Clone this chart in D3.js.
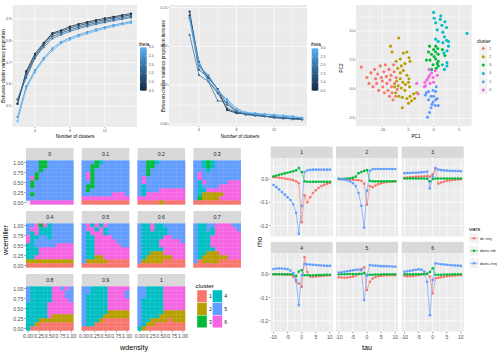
<!DOCTYPE html>
<html>
<head>
<meta charset="utf-8">
<script src="https://cdn.jsdelivr.net/npm/d3@7"></script>
<style>
  body { margin: 0; background: #fff; }
  svg { display: block; font-family: "Liberation Sans", Arial, sans-serif; }
</style>
</head>
<body>
<div id="wrapper"></div>
<script>
// ---------- data ----------
const thetas = [0.5, 1.0, 1.5, 2.0, 2.5, 3.0]
const kAll = [2, 3, 4, 5, 6, 7, 8, 9, 10, 11, 12, 13, 14, 15]
const propByTheta = [
  [0.51, 0.66, 0.74, 0.79, 0.835, 0.848, 0.865, 0.877, 0.886, 0.895, 0.903, 0.91, 0.918, 0.925],
  [0.51, 0.65, 0.73, 0.785, 0.83, 0.842, 0.858, 0.87, 0.88, 0.889, 0.897, 0.905, 0.912, 0.919],
  [0.53, 0.63, 0.72, 0.78, 0.82, 0.835, 0.85, 0.862, 0.873, 0.882, 0.89, 0.898, 0.905, 0.912],
  [0.53, 0.64, 0.725, 0.77, 0.81, 0.828, 0.843, 0.856, 0.866, 0.876, 0.884, 0.892, 0.899, 0.906],
  [0.45, 0.59, 0.665, 0.72, 0.765, 0.795, 0.812, 0.827, 0.84, 0.852, 0.862, 0.872, 0.88, 0.888],
  [0.43, 0.58, 0.655, 0.713, 0.755, 0.788, 0.805, 0.82, 0.833, 0.845, 0.856, 0.866, 0.875, 0.882]
]
const kInc = [3, 4, 5, 6, 7, 8, 9, 10, 11, 12, 13, 14, 15]
const incByTheta = [
  [0.145, 0.075, 0.06, 0.045, 0.018, 0.014, 0.013, 0.012, 0.01, 0.009, 0.008, 0.007, 0.006],
  [0.14, 0.08, 0.055, 0.04, 0.02, 0.015, 0.013, 0.011, 0.01, 0.009, 0.008, 0.007, 0.007],
  [0.137, 0.07, 0.06, 0.045, 0.025, 0.016, 0.012, 0.011, 0.01, 0.008, 0.007, 0.007, 0.006],
  [0.115, 0.063, 0.055, 0.03, 0.028, 0.016, 0.013, 0.012, 0.01, 0.009, 0.008, 0.006, 0.006],
  [0.138, 0.075, 0.063, 0.044, 0.03, 0.018, 0.014, 0.013, 0.012, 0.011, 0.01, 0.009, 0.008],
  [0.135, 0.078, 0.056, 0.042, 0.032, 0.02, 0.015, 0.014, 0.013, 0.012, 0.011, 0.01, 0.008]
]

// PCA scatter, [PC1, PC2] per cluster
const pcaCluster1 = [[-14.1,1.9],[-13.0,1.0],[-12.6,0.5],[-12.2,1.4],[-11.8,0.2],[-11.5,1.7],[-11.3,0.9],[-11.1,0.5],[-10.9,1.3],[-10.7,-0.1],[-10.4,2.0],[-10.2,1.0],[-10.0,0.7],[-9.9,0.2],[-9.7,1.5],[-9.6,-0.3],[-9.4,2.1],[-9.2,1.1],[-9.1,0.5],[-8.9,-0.1],[-8.7,1.7],[-8.6,-0.6],[-8.5,0.8],[-8.3,1.2],[-8.2,0.2],[-8.1,-0.3],[-7.9,-0.9],[-7.8,2.1],[-7.7,1.5],[-7.6,0.5],[-7.4,-0.6],[-7.3,1.0],[-7.1,0.0]]
const pcaCluster2 = [[-8.4,3.7],[-6.8,4.4],[-8.1,3.2],[-7.3,2.4],[-6.5,2.6],[-5.9,3.1],[-5.2,3.2],[-4.8,2.7],[-4.6,2.4],[-7.0,1.8],[-6.3,2.0],[-5.6,2.2],[-6.5,1.4],[-5.9,1.6],[-5.2,1.2],[-4.8,0.9],[-7.2,0.7],[-6.5,0.9],[-6.0,0.6],[-5.5,0.4],[-4.9,0.6],[-7.6,0.2],[-6.9,0.3],[-6.3,0.1],[-5.6,-0.1],[-4.7,0.2],[-7.4,-0.3],[-6.8,-0.6],[-6.1,-0.7],[-5.2,-0.8],[-4.6,-0.6],[-3.9,-0.4],[-3.3,-0.3],[-6.1,-1.6],[-4.9,-1.2],[-4.3,-1.0],[-3.7,-0.8]]
const pcaCluster3 = [[-0.8,3.7],[0.0,3.4],[0.4,3.7],[0.8,3.5],[-1.0,3.2],[-0.4,3.0],[0.4,3.2],[0.9,3.0],[1.7,3.4],[2.2,2.9],[-0.7,2.5],[0.4,2.6],[0.9,2.4],[-0.1,2.1],[0.7,2.2],[0.9,2.0],[-0.4,1.7],[0.5,1.8],[-1.4,2.5],[0.1,2.8]]
const pcaCluster4 = [[0.0,6.6],[0.1,6.1],[0.4,5.7],[0.7,5.1],[1.3,6.0],[1.6,5.5],[1.8,4.9],[2.2,5.8],[2.5,5.3],[1.4,6.3],[2.1,4.5],[2.5,4.2],[1.8,4.0],[2.9,4.1],[6.5,4.8],[2.0,3.1],[2.6,3.3],[2.9,3.7],[2.6,2.0],[2.1,1.7],[1.7,2.1],[2.6,2.3],[0.9,4.1],[0.4,4.3]]
const pcaCluster5 = [[-1.4,-0.3],[-0.5,-0.6],[0.4,-0.2],[0.7,-0.8],[-1.0,-0.9],[-0.1,-1.1],[0.3,-1.4],[-0.5,-1.6],[-0.8,-2.0],[-1.2,-2.4],[0.4,-0.9],[0.9,-1.4],[-0.1,-0.1],[-1.6,-0.5],[0.0,-0.6],[-0.3,-1.3],[0.5,0.2],[-1.0,-0.2]]
const pcaCluster6 = [[-3.3,0.5],[-3.0,-0.4],[-1.6,0.3],[-1.3,0.8],[-1.0,1.0],[-0.8,1.2],[-0.7,0.5],[-0.4,1.4],[-0.1,1.0],[0.0,0.6],[0.3,1.6],[0.7,1.2],[-0.9,1.7],[-1.7,0.6],[-1.8,0.2]]
const pcaClusters = [pcaCluster1, pcaCluster2, pcaCluster3, pcaCluster4, pcaCluster5, pcaCluster6]

// tile facets: cluster id per cell, rows from wcentiller 1.0 (top) to 0.0, columns wdensity 0 -> 1
const tileFacets = ["0", "0.1", "0.2", "0.3", "0.4", "0.5", "0.6", "0.7", "0.8", "0.9", "1"]
const wdensity = [0, 0.1, 0.2, 0.3, 0.4, 0.5, 0.6, 0.7, 0.8, 0.9, 1]
const wcentiller = [1, 0.9, 0.8, 0.7, 0.6, 0.5, 0.4, 0.3, 0.2, 0.1, 0]
const tileGrids = [
  ["55533555555","55533555555","55535555555","55355555555","56355555555","53555555555","53555555555","55555555555","53555555555","55555555555","06666666666"],
  ["55534555555","55335555555","55355555555","56355555555","56355555555","55355555555","53355555555","53555555555","55555556665","66666666666","11111111111"],
  ["55334555555","55335555555","55355555555","55355555555","56555555555","56555555555","54555555555","54555666666","54666666666","66666666666","11111211111"],
  ["55434555555","55434555555","55545555555","56555555555","56555555555","54655555666","54555566666","54466666666","54222226666","53222266666","11111111111"],
  ["55636455555","56644455555","54644455555","64455455555","64555555555","44555556666","44466666666","44466666666","44666666666","22222222222","11111111111"],
  ["56464655555","56646455555","54666455555","54466665555","54466666555","54466666655","54466666666","54466666666","54422666666","52222211111","11111111111"],
  ["54464455555","54464445555","54444445555","54444466555","54444666665","54444666666","54444466666","54422266666","54222222666","52222211111","11111111111"],
  ["54455666655","54454666665","54444666666","54446666666","54446666666","54446666666","54444666666","54422266666","54222222666","51222211111","11111111111"],
  ["54444466565","54444466655","54444466655","54444466665","44444666666","44444666666","44444666666","44444622222","44422222222","44211111111","41111111111"],
  ["55444466666","55444466665","54444466665","54444466666","54444466666","54444466666","54444422222","54444222222","54442111111","54411111111","11111111111"],
  ["55444466666","55444466666","55444466666","54444466666","54444466666","54444466666","54444422222","54444222222","54422221222","54221111111","42111111111"]
]

// cross-correlation facets
const rhoFacets = ["1", "2", "3", "4", "5", "6"]
const taus = [-10, -9, -8, -7, -6, -5, -4, -3, -2, -1, 0, 1, 2, 3, 4, 5, 6, 7, 8, 9, 10]
const varNames = ["dr->rej", "dans->dr", "dans->rej"]
const rhoDrRej = [
  [0.008,0.007,0.005,0.004,0.002,0.0,-0.002,-0.005,-0.01,-0.018,-0.185,-0.07,-0.1,-0.078,-0.06,-0.048,-0.038,-0.03,-0.025,-0.02,-0.017],
  [0.0,-0.001,-0.001,-0.002,-0.002,-0.003,-0.004,-0.005,-0.008,-0.02,-0.11,-0.03,-0.035,-0.028,-0.022,-0.018,-0.015,-0.013,-0.012,-0.011,-0.01],
  [0.005,0.006,0.007,0.008,0.009,0.01,0.011,0.012,0.012,0.01,0.02,0.045,-0.02,-0.015,-0.012,-0.008,-0.006,-0.004,-0.003,-0.002,-0.001],
  [0.0,0.0,-0.001,-0.001,-0.002,-0.002,-0.002,-0.01,-0.03,-0.04,-0.053,0.073,0.01,-0.01,-0.01,-0.009,-0.008,-0.007,-0.006,-0.005,-0.005],
  [-0.013,-0.014,-0.015,-0.014,-0.012,-0.01,-0.006,0.0,0.02,0.03,-0.067,-0.032,-0.018,-0.012,-0.008,-0.006,-0.005,-0.004,-0.004,-0.004,-0.004],
  [-0.006,-0.008,-0.008,-0.007,-0.005,-0.003,0.0,0.003,0.002,-0.01,-0.082,-0.017,-0.015,-0.012,-0.01,-0.008,-0.007,-0.006,-0.005,-0.004,-0.004]
]
const rhoDansDr = [
  [0.012,0.015,0.018,0.021,0.024,0.027,0.03,0.033,0.037,0.047,0.03,-0.01,-0.012,-0.012,-0.012,-0.012,-0.012,-0.012,-0.012,-0.012,-0.012],
  [0.0,0.0,0.001,0.002,0.003,0.005,0.01,0.025,0.03,0.035,0.038,-0.008,-0.01,-0.01,-0.01,-0.01,-0.01,-0.01,-0.01,-0.01,-0.01],
  [0.002,0.002,0.002,0.002,0.002,0.002,0.002,0.002,0.001,-0.01,0.0,0.002,0.002,0.002,0.002,0.002,0.002,0.002,0.002,0.002,0.002],
  [0.0,0.0,0.0,0.0,0.0,0.0,0.0,0.0,-0.008,0.012,0.018,-0.004,-0.004,-0.004,-0.004,-0.003,-0.003,-0.003,-0.002,-0.002,-0.002],
  [0.0,0.0,0.0,0.001,0.001,0.001,0.001,0.001,0.001,0.005,-0.003,-0.002,-0.002,-0.001,-0.001,-0.001,0.0,0.0,0.0,0.0,0.0],
  [0.0,0.0,0.0,0.0,0.0,0.0,0.0,0.0,0.002,0.01,0.026,-0.002,-0.002,-0.002,-0.001,-0.001,-0.001,0.0,0.0,0.0,0.0]
]
const rhoDansRej = [
  [-0.026,-0.035,-0.045,-0.056,-0.067,-0.078,-0.09,-0.108,-0.145,-0.235,-0.115,0.03,0.037,0.039,0.04,0.04,0.04,0.04,0.04,0.04,0.04],
  [0.002,0.0,-0.002,-0.005,-0.01,-0.018,-0.03,-0.06,-0.115,-0.208,-0.05,0.035,0.042,0.043,0.043,0.043,0.043,0.043,0.043,0.043,0.043],
  [0.025,0.026,0.026,0.027,0.027,0.028,0.029,0.03,0.032,-0.041,0.01,0.047,0.04,0.038,0.037,0.036,0.035,0.035,0.034,0.034,0.033],
  [0.023,0.025,0.025,0.025,0.024,0.022,0.016,0.005,-0.024,-0.132,-0.003,0.044,0.043,0.042,0.041,0.04,0.039,0.038,0.037,0.036,0.036],
  [0.007,0.009,0.011,0.013,0.015,0.017,0.019,0.02,0.021,-0.11,-0.005,0.04,0.038,0.037,0.036,0.035,0.035,0.034,0.034,0.033,0.033],
  [0.011,0.013,0.015,0.017,0.019,0.021,0.02,0.012,-0.032,-0.175,-0.024,0.047,0.045,0.043,0.042,0.041,0.04,0.039,0.038,0.037,0.036]
]
const rhoSeries = [rhoDrRej, rhoDansDr, rhoDansRej]

// ---------- styles ----------
const hue = ["#F8766D", "#B79F00", "#00BA38", "#00BFC4", "#619CFF", "#F564E3"]
const varColors = ["#F8766D", "#00BA38", "#619CFF"]
const thetaColor = d3.scaleLinear().domain([0.5, 3]).range(["#132B43", "#56B1F7"]).interpolate(d3.interpolateLab)

const svg = d3.select("#wrapper").append("svg").attr("width", 499).attr("height", 355)

// gray ggplot panel with white grid lines
function panel(box, sx, sy, xMaj, xMin, yMaj, yMin, gw) {
  const g = svg.append("g")
  g.append("rect").attr("x", box.x).attr("y", box.y).attr("width", box.w).attr("height", box.h).attr("fill", "#EBEBEB")
  const vline = (v, w) => g.append("line").attr("x1", sx(v)).attr("x2", sx(v)).attr("y1", box.y).attr("y2", box.y + box.h).attr("stroke", "#fff").attr("stroke-width", w)
  const hline = (v, w) => g.append("line").attr("y1", sy(v)).attr("y2", sy(v)).attr("x1", box.x).attr("x2", box.x + box.w).attr("stroke", "#fff").attr("stroke-width", w)
  xMin.forEach(v => vline(v, gw * 0.5))
  yMin.forEach(v => hline(v, gw * 0.5))
  xMaj.forEach(v => vline(v, gw))
  yMaj.forEach(v => hline(v, gw))
  return g
}

function text(x, y, s, size, opts = {}) {
  const t = svg.append("text").attr("x", x).attr("y", y).text(s)
    .attr("font-size", size).attr("fill", opts.fill || "#000")
    .attr("text-anchor", opts.anchor || "middle").attr("dominant-baseline", "central")
  if (opts.rotate) t.attr("transform", `rotate(-90, ${x}, ${y})`)
  return t
}

function xAxis(sx, ticks, labels, y, size, tl) {
  ticks.forEach((v, i) => {
    svg.append("line").attr("x1", sx(v)).attr("x2", sx(v)).attr("y1", y).attr("y2", y + tl).attr("stroke", "#333").attr("stroke-width", 0.4)
    text(sx(v), y + tl + size * 0.75, labels[i], size, { fill: "#4D4D4D" })
  })
}
function yAxis(sy, ticks, labels, x, size, tl) {
  ticks.forEach((v, i) => {
    svg.append("line").attr("y1", sy(v)).attr("y2", sy(v)).attr("x1", x - tl).attr("x2", x).attr("stroke", "#333").attr("stroke-width", 0.4)
    if (labels) text(x - tl - 0.6, sy(v), labels[i], size, { fill: "#4D4D4D", anchor: "end" })
  })
}

function colorbar(x, y, w, h, lx, titleY) {
  const id = "cb" + Math.round(x)
  const grad = svg.append("defs").append("linearGradient").attr("id", id).attr("x1", 0).attr("x2", 0).attr("y1", 1).attr("y2", 0)
  thetas.forEach(t => grad.append("stop").attr("offset", (t - 0.5) / 2.5).attr("stop-color", thetaColor(t)))
  text(x - 1, titleY, "theta", 4.6, { anchor: "start" })
  svg.append("rect").attr("x", x).attr("y", y).attr("width", w).attr("height", h).attr("fill", `url(#${id})`)
  const sb = d3.scaleLinear().domain([0.5, 3]).range([y + h, y])
  thetas.forEach(t => {
    svg.append("line").attr("x1", x).attr("x2", x + 1.3).attr("y1", sb(t)).attr("y2", sb(t)).attr("stroke", "#fff").attr("stroke-width", 0.4)
    svg.append("line").attr("x1", x + w - 1.3).attr("x2", x + w).attr("y1", sb(t)).attr("y2", sb(t)).attr("stroke", "#fff").attr("stroke-width", 0.4)
    text(lx, sb(t), t.toFixed(1), 3.6, { anchor: "start", fill: "#4D4D4D" })
  })
}

// ---------- top left: variance proportion ----------
{
  const box = { x: 12.7, y: 5, w: 124.3, h: 122 }
  const sx = d3.scaleLinear().domain([2, 15]).range([17.5, 131])
  const sy = d3.scaleLinear().domain([0.5, 0.9]).range([106, 19])
  panel(box, sx, sy, [4, 8, 12], [2, 6, 10, 14], [0.5, 0.6, 0.7, 0.8, 0.9], [0.45, 0.55, 0.65, 0.75, 0.85, 0.95], 0.7)
  const line = d3.line().x((d, i) => sx(kAll[i])).y(d => sy(d))
  propByTheta.forEach((vals, j) => {
    svg.append("path").attr("d", line(vals)).attr("fill", "none").attr("stroke", thetaColor(thetas[j])).attr("stroke-width", 0.8)
    vals.forEach((v, i) => svg.append("circle").attr("cx", sx(kAll[i])).attr("cy", sy(v)).attr("r", 1.1).attr("fill", thetaColor(thetas[j])))
  })
  xAxis(sx, [4, 8, 12], ["4", "8", "12"], box.y + box.h, 3.6, 1)
  yAxis(sy, [0.5, 0.6, 0.7, 0.8, 0.9], ["0.5", "0.6", "0.7", "0.8", "0.9"], box.x, 3.6, 1)
  text(75, 136.5, "Number of clusters", 4.6)
  text(3.5, 66, "Between-cluster variance proportion", 4.6, { rotate: true })
  colorbar(140, 47.3, 6.7, 43.4, 148.8, 44)
}

// ---------- top middle: variance proportion increase ----------
{
  const box = { x: 169, y: 5, w: 138, h: 121 }
  const sx = d3.scaleLinear().domain([4, 12]).range([199, 274])
  const sy = d3.scaleLinear().domain([0, 0.15]).range([124, 7.7])
  panel(box, sx, sy, [4, 8, 12], [2, 6, 10, 14], [0, 0.05, 0.1, 0.15], [0.025, 0.075, 0.125], 0.7)
  const line = d3.line().x((d, i) => sx(kInc[i])).y(d => sy(d))
  incByTheta.forEach((vals, j) => {
    svg.append("path").attr("d", line(vals)).attr("fill", "none").attr("stroke", thetaColor(thetas[j])).attr("stroke-width", 0.8)
    vals.forEach((v, i) => svg.append("circle").attr("cx", sx(kInc[i])).attr("cy", sy(v)).attr("r", 1.1).attr("fill", thetaColor(thetas[j])))
  })
  xAxis(sx, [4, 8, 12], ["4", "8", "12"], box.y + box.h, 3.6, 1)
  yAxis(sy, [0, 0.05, 0.1, 0.15], ["0.00", "0.05", "0.10", "0.15"], box.x, 3.6, 1)
  text(240, 136.5, "Number of clusters", 4.6)
  text(163.5, 66, "Between-cluster variance proportion increase", 4.6, { rotate: true })
  colorbar(311.7, 48.3, 6.6, 42.4, 320.5, 44)
}

// ---------- top right: PCA scatter ----------
{
  const box = { x: 356, y: 5, w: 115.7, h: 121 }
  const sx = d3.scaleLinear().domain([-10, 5]).range([382.3, 459.3])
  const sy = d3.scaleLinear().domain([-2.5, 5]).range([118.3, 31])
  panel(box, sx, sy, [-10, -5, 0, 5], [-12.5, -7.5, -2.5, 2.5], [-2.5, 0, 2.5, 5], [-1.25, 1.25, 3.75, 6.25], 0.7)
  pcaClusters.forEach((pts, c) => {
    pts.forEach(p => svg.append("circle").attr("cx", sx(p[0])).attr("cy", sy(p[1])).attr("r", 1.55).attr("fill", hue[c]))
  })
  xAxis(sx, [-10, -5, 0, 5], ["-10", "-5", "0", "5"], box.y + box.h, 3.6, 1)
  yAxis(sy, [-2.5, 0, 2.5, 5], ["-2.5", "0.0", "2.5", "5.0"], box.x, 3.6, 1)
  text(416, 136.5, "PC1", 4.6)
  text(341, 68, "PC2", 4.6, { rotate: true })
  text(477, 41.7, "cluster", 4.6, { anchor: "start" })
  const ly = d3.scaleLinear().domain([1, 6]).range([48.5, 90])
  d3.range(6).forEach(c => {
    svg.append("rect").attr("x", 479.3).attr("y", ly(c + 1) - 4).attr("width", 8).attr("height", 8).attr("fill", "#F2F2F2")
    svg.append("circle").attr("cx", 483.3).attr("cy", ly(c + 1)).attr("r", 1.5).attr("fill", hue[c])
    text(489.3, ly(c + 1), String(c + 1), 3.6, { anchor: "start", fill: "#4D4D4D" })
  })
}

// ---------- bottom left: cluster tiles ----------
{
  const pw = 47.5, ph = 44, colStep = 55.8, rowStep = 63
  tileFacets.forEach((f, i) => {
    const col = i % 4, row = Math.floor(i / 4)
    const x0 = 26 + col * colStep, y0 = 160.5 + row * rowStep
    const sx = d3.scaleLinear().domain([-0.05, 1.05]).range([x0, x0 + pw])
    const sy = d3.scaleLinear().domain([-0.05, 1.05]).range([y0 + ph, y0])
    svg.append("rect").attr("x", x0).attr("y", y0 - 12.5).attr("width", pw).attr("height", 12).attr("fill", "#D9D9D9")
    text(x0 + pw / 2, y0 - 6.5, f, 5.2, { fill: "#1A1A1A" })
    svg.append("rect").attr("x", x0).attr("y", y0).attr("width", pw).attr("height", ph).attr("fill", "#EBEBEB")
    tileGrids[i].forEach((rowStr, r) => {
      rowStr.split("").forEach((ch, c) => {
        const k = +ch
        if (!k) return
        const wx = wdensity[c], wy = wcentiller[r]
        svg.append("rect")
          .attr("x", sx(wx - 0.05)).attr("y", sy(wy + 0.05))
          .attr("width", sx(wx + 0.05) - sx(wx - 0.05)).attr("height", sy(wy - 0.05) - sy(wy + 0.05))
          .attr("fill", hue[k - 1]).attr("stroke", hue[k - 1]).attr("stroke-width", 0.25)
      })
    })
    if (col === 0) yAxis(sy, [0, 0.25, 0.5, 0.75, 1], ["0.00", "0.25", "0.50", "0.75", "1.00"], x0, 5.2, 2)
    if (row === 2) xAxis(sx, [0, 0.25, 0.5, 0.75, 1], ["0.00", "0.25", "0.50", "0.75", "1.00"], y0 + ph, 5.2, 2)
  })
  text(134, 347.5, "wdensity", 7.2)
  text(5, 240, "wcentiller", 7.2, { rotate: true })
  // legend
  text(195.5, 285, "cluster", 6.2, { anchor: "start" })
  d3.range(6).forEach(c => {
    const lc = Math.floor(c / 3), lr = c % 3
    const kx = 197 + lc * 15.3, ky = 290 + lr * 12.6
    svg.append("rect").attr("x", kx).attr("y", ky).attr("width", 10).attr("height", 12.6).attr("fill", hue[c]).attr("stroke", "#fff").attr("stroke-width", 0.4)
    text(kx + 12, ky + 6.3, String(c + 1), 5.2, { anchor: "start", fill: "#1A1A1A" })
  })
}

// ---------- bottom right: rho vs tau ----------
{
  const pw = 62, colX = [270.7, 336, 401.7], rowY = [158, 253.3], ph = 78.4
  rhoFacets.forEach((f, i) => {
    const col = i % 3, row = Math.floor(i / 3)
    const x0 = colX[col], y0 = rowY[row]
    const sx = d3.scaleLinear().domain([-11, 11]).range([x0, x0 + pw])
    const sy = d3.scaleLinear().domain([-0.246, 0.09]).range([y0 + ph, y0])
    svg.append("rect").attr("x", x0).attr("y", y0 - 11.5).attr("width", pw).attr("height", 11.5).attr("fill", "#D9D9D9")
    text(x0 + pw / 2, y0 - 5.6, f, 5, { fill: "#1A1A1A" })
    panel({ x: x0, y: y0, w: pw, h: ph }, sx, sy, [-10, -5, 0, 5, 10], [-7.5, -2.5, 2.5, 7.5], [-0.2, -0.1, 0], [-0.15, -0.05, 0.05], 0.8)
    const line = d3.line().x((d, j) => sx(taus[j])).y(d => sy(d))
    rhoSeries.forEach((series, s) => {
      const vals = series[i]
      svg.append("path").attr("d", line(vals)).attr("fill", "none").attr("stroke", varColors[s]).attr("stroke-width", 0.6)
      vals.forEach((v, j) => svg.append("circle").attr("cx", sx(taus[j])).attr("cy", sy(v)).attr("r", 1.3).attr("fill", varColors[s]))
    })
    if (col === 0) yAxis(sy, [-0.2, -0.1, 0], ["-0.2", "-0.1", "0.0"], x0, 5, 2)
    if (row === 1) xAxis(sx, [-10, -5, 0, 5, 10], ["-10", "-5", "0", "5", "10"], y0 + ph, 5, 2)
  })
  text(367, 347.5, "tau", 7.2)
  text(259, 242, "rho", 7.2, { rotate: true })
  text(469, 228.5, "vars", 6, { anchor: "start" })
  varNames.forEach((v, s) => {
    const ky = 238.3 + s * 12.5
    svg.append("rect").attr("x", 469.5).attr("y", ky - 5).attr("width", 9).attr("height", 10).attr("fill", "#F2F2F2")
    svg.append("line").attr("x1", 470).attr("x2", 478).attr("y1", ky).attr("y2", ky).attr("stroke", varColors[s]).attr("stroke-width", 0.6)
    svg.append("circle").attr("cx", 474).attr("cy", ky).attr("r", 1.3).attr("fill", varColors[s])
    text(480, ky, v, 4, { anchor: "start", fill: "#1A1A1A" })
  })
}
</script>
</body>
</html>
